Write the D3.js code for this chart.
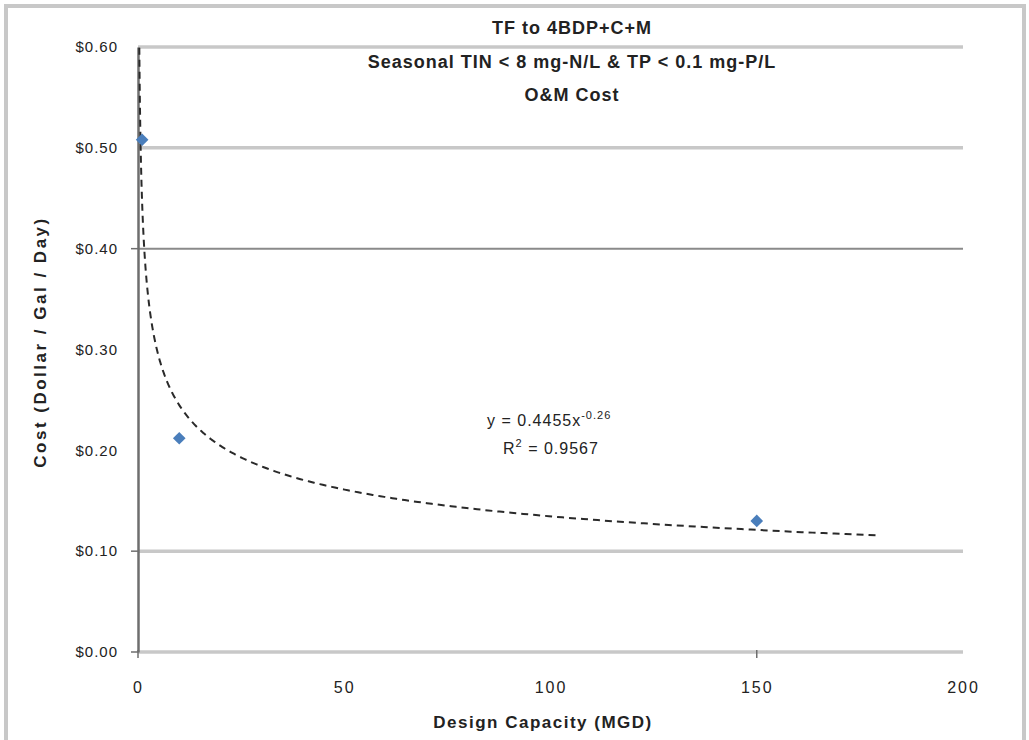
<!DOCTYPE html>
<html>
<head>
<meta charset="utf-8">
<script src="https://cdn.jsdelivr.net/npm/d3@7"></script>
<style>
  body { margin: 0; background: #fff; }
  svg { display: block; font-family: "Liberation Sans", Arial, sans-serif; }
</style>
</head>
<body>
<svg id="chart" width="1029" height="740"></svg>
<script>
// ---- data ----
const titleLines = ["TF to 4BDP+C+M", "Seasonal TIN < 8  mg-N/L & TP < 0.1 mg-P/L", "O&M Cost"];
const capacity = [1, 10, 150];           // Design Capacity (MGD)
const cost = [0.508, 0.212, 0.130];      // Cost ($/Gal/Day)
const yTicks = [0, 0.1, 0.2, 0.3, 0.4, 0.5, 0.6];
const yGridTicks = [0, 0.1, 0.5, 0.6];
const yDarkGrid = [0.4];
const xTicks = [0, 50, 100, 150, 200];
const trendA = 0.4455, trendB = -0.26;   // y = a x^b
const trendRange = [0.3, 180];
const equationText = ["y = 0.4455x", "-0.26"];
const r2Text = "0.9567";

const svg = d3.select("#chart");
const x = d3.scaleLinear().domain([0, 200]).range([138, 963]);
const y = d3.scaleLinear().domain([0, 0.6]).range([652, 47]);

// outer frame
svg.append("rect").attr("x", 6).attr("y", 6).attr("width", 1018).attr("height", 760)
  .attr("fill", "#fff").attr("stroke", "#c8c8c8").attr("stroke-width", 4);

// gridlines
svg.append("g").selectAll("line").data(yGridTicks).join("line")
  .attr("x1", x(0)).attr("x2", x(200))
  .attr("y1", d => y(d)).attr("y2", d => y(d))
  .attr("stroke", "#c8c8c8").attr("stroke-width", 3.5);
svg.append("g").selectAll("line").data(yDarkGrid).join("line")
  .attr("x1", x(0)).attr("x2", x(200))
  .attr("y1", d => y(d)).attr("y2", d => y(d))
  .attr("stroke", "#8a8a8a").attr("stroke-width", 2);

// y axis
const yAxis = d3.axisLeft(y).tickValues(yTicks).tickSize(0).tickPadding(20)
  .tickFormat(d => "$" + d3.format(".2f")(d));
const gy = svg.append("g").attr("transform", `translate(${x(0)},0)`).call(yAxis);
gy.select(".domain").attr("stroke", "#6e6e6e").attr("stroke-width", 2.5);
gy.selectAll("text").attr("font-size", 15).attr("letter-spacing", 1).attr("fill", "#222");
svg.append("g").selectAll("line").data([0, 0.1, 0.4]).join("line")
  .attr("x1", x(0) - 7).attr("x2", x(0)).attr("y1", d => y(d)).attr("y2", d => y(d))
  .attr("stroke", "#6e6e6e").attr("stroke-width", 1.5);

// x axis
const gx = svg.append("g").attr("transform", `translate(0,${y(0)})`)
  .call(d3.axisBottom(x).tickValues(xTicks).tickSize(0).tickPadding(30));
gx.select(".domain").remove();
gx.selectAll("text").attr("font-size", 16).attr("letter-spacing", 2).attr("fill", "#222");
svg.append("g").selectAll("line").data([0, 150]).join("line")
  .attr("x1", d => x(d)).attr("x2", d => x(d)).attr("y1", y(0) - 2).attr("y2", y(0) + 6)
  .attr("stroke", "#6e6e6e").attr("stroke-width", 1.5);

// trendline
const trendPts = d3.range(0, 401).map(i => {
  const t = trendRange[0] * Math.pow(trendRange[1] / trendRange[0], i / 400);
  return [t, trendA * Math.pow(t, trendB)];
}).filter(p => p[1] <= 0.6);
svg.append("path").datum(trendPts)
  .attr("d", d3.line().x(d => x(d[0])).y(d => y(d[1])))
  .attr("fill", "none").attr("stroke", "#2a2a2a").attr("stroke-width", 2)
  .attr("stroke-dasharray", "7,5");

// points (diamonds)
svg.append("g").selectAll("path").data(capacity).join("path")
  .attr("transform", (d, i) => `translate(${x(d)},${y(cost[i])}) rotate(45)`)
  .attr("d", d3.symbol(d3.symbolSquare, 80))
  .attr("fill", "#4a7ebb");

// equation
const eq = svg.append("text").attr("x", 487).attr("y", 426).attr("font-size", 16)
  .attr("letter-spacing", 1).attr("fill", "#222");
eq.append("tspan").text(equationText[0]);
eq.append("tspan").attr("dy", -7).attr("font-size", 11).text(equationText[1]);
const r2 = svg.append("text").attr("x", 503).attr("y", 454).attr("font-size", 16)
  .attr("letter-spacing", 1).attr("fill", "#222");
r2.append("tspan").text("R");
r2.append("tspan").attr("dy", -7).attr("font-size", 11).text("2");
r2.append("tspan").attr("dy", 7).text(" = " + r2Text);

// titles
svg.append("g").selectAll("text").data(titleLines).join("text")
  .attr("x", 572).attr("y", (d, i) => 34 + i * 33.5)
  .attr("text-anchor", "middle").attr("font-size", 18).attr("letter-spacing", 1)
  .attr("font-weight", "bold").attr("fill", "#222")
  .text(d => d);

// axis titles
svg.append("text").attr("x", 543).attr("y", 728).attr("text-anchor", "middle")
  .attr("font-size", 17).attr("letter-spacing", 1.5).attr("font-weight", "bold").attr("fill", "#222")
  .text("Design Capacity (MGD)");
svg.append("text").attr("transform", "translate(46,342) rotate(-90)").attr("text-anchor", "middle")
  .attr("font-size", 17).attr("letter-spacing", 2.5).attr("font-weight", "bold").attr("fill", "#222")
  .text("Cost (Dollar / Gal / Day)");
</script>
</body>
</html>
